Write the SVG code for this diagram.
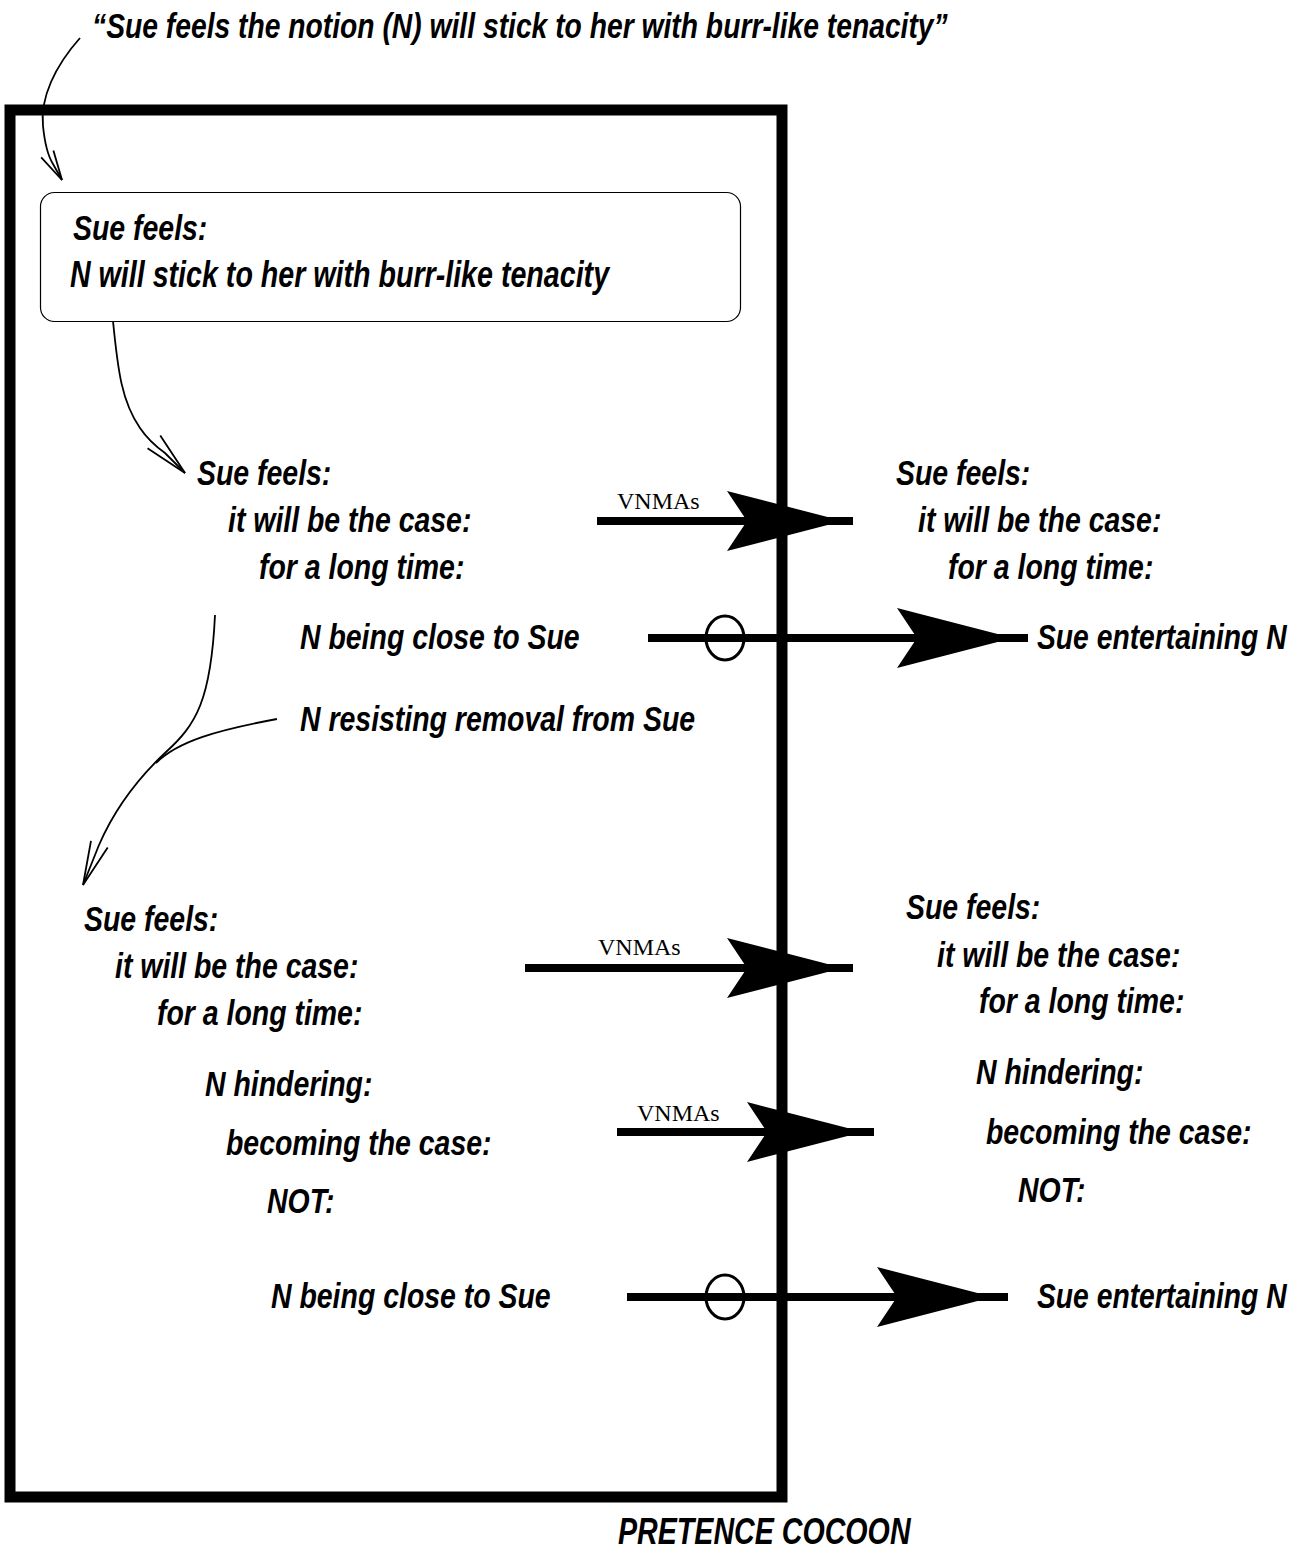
<svg xmlns="http://www.w3.org/2000/svg" width="1307" height="1550" viewBox="0 0 1307 1550">
  <style>
    /* condensed bold oblique sans: 36px glyphs squeezed to 79% width */
    .t { font-family: "Liberation Sans", Arial, sans-serif; font-weight: bold; font-style: italic; font-size: 36px; fill: #000; }
    .lbl { font-family: "Liberation Serif", "Times New Roman", serif; font-size: 24px; fill: #000; }
    .thick { stroke: #000; stroke-width: 8; fill: none; }
    .thin { stroke: #000; stroke-width: 1.8; fill: none; }
    .ring { stroke: #000; stroke-width: 3; fill: none; }
  </style>
  <defs>
    <!-- solid barbed arrowhead, tip at the origin pointing right -->
    <path id="head" d="M0,0 L-116,-30 L-96,0 L-116,30 Z" fill="#000"/>
    <!-- open V arrowheads for the thin curved connectors -->
    <marker id="vshort" markerUnits="userSpaceOnUse" viewBox="-34 -10 38 20" markerWidth="38" markerHeight="20" refX="0" refY="0" orient="auto" overflow="visible">
      <path d="M-30,-7 L0,0 L-30,7" fill="none" stroke="#000" stroke-width="1.8"/>
    </marker>
    <marker id="vlong" markerUnits="userSpaceOnUse" viewBox="-48 -12 52 24" markerWidth="52" markerHeight="24" refX="0" refY="0" orient="auto" overflow="visible">
      <path d="M-44,-9 L0,0 L-44,9" fill="none" stroke="#000" stroke-width="1.8"/>
    </marker>
  </defs>

  <rect width="1307" height="1550" fill="#fff"/>

  <!-- quoted sentence -->
  <g id="quote">
    <text class="t" transform="translate(92,38) scale(0.785,1)">“Sue feels the notion (N) will stick to her with burr-like tenacity”</text>
  </g>

  <!-- the cocoon frame and its caption -->
  <g id="cocoon">
    <rect x="10" y="110" width="772" height="1387" fill="none" stroke="#000" stroke-width="11"/>
    <text class="t" transform="translate(618,1544) scale(0.795,1)">PRETENCE COCOON</text>
  </g>

  <!-- rounded box: restated sentence -->
  <g id="feels-box">
    <rect x="40.5" y="192.5" width="700" height="129" rx="14" ry="14" fill="none" stroke="#000" stroke-width="1.2"/>
    <text class="t" transform="translate(73,240) scale(0.79,1)">Sue feels:</text>
    <text class="t" transform="translate(70,287) scale(0.795,1)">N will stick to her with burr-like tenacity</text>
  </g>

  <!-- first unpacking, inside the cocoon -->
  <g id="inner-1">
    <text class="t" transform="translate(197,485) scale(0.79,1)">Sue feels:</text>
    <text class="t" transform="translate(228,532) scale(0.79,1)">it will be the case:</text>
    <text class="t" transform="translate(259,579) scale(0.79,1)">for a long time:</text>
    <text class="t" transform="translate(300,649) scale(0.79,1)">N being close to Sue</text>
    <text class="t" transform="translate(300,731) scale(0.79,1)">N resisting removal from Sue</text>
  </g>

  <!-- first result, outside the cocoon -->
  <g id="outer-1">
    <text class="t" transform="translate(896,485) scale(0.79,1)">Sue feels:</text>
    <text class="t" transform="translate(918,532) scale(0.79,1)">it will be the case:</text>
    <text class="t" transform="translate(948,579) scale(0.79,1)">for a long time:</text>
    <text class="t" transform="translate(1037,649) scale(0.785,1)">Sue entertaining N</text>
  </g>

  <!-- second unpacking, inside the cocoon -->
  <g id="inner-2">
    <text class="t" transform="translate(84,931) scale(0.79,1)">Sue feels:</text>
    <text class="t" transform="translate(115,978) scale(0.79,1)">it will be the case:</text>
    <text class="t" transform="translate(157,1025) scale(0.79,1)">for a long time:</text>
    <text class="t" transform="translate(205,1096) scale(0.79,1)">N hindering:</text>
    <text class="t" transform="translate(226,1155) scale(0.79,1)">becoming the case:</text>
    <text class="t" transform="translate(267,1213) scale(0.79,1)">NOT:</text>
    <text class="t" transform="translate(271,1308) scale(0.79,1)">N being close to Sue</text>
  </g>

  <!-- second result, outside the cocoon -->
  <g id="outer-2">
    <text class="t" transform="translate(906,919) scale(0.79,1)">Sue feels:</text>
    <text class="t" transform="translate(937,967) scale(0.79,1)">it will be the case:</text>
    <text class="t" transform="translate(979,1013) scale(0.79,1)">for a long time:</text>
    <text class="t" transform="translate(976,1084) scale(0.79,1)">N hindering:</text>
    <text class="t" transform="translate(986,1144) scale(0.79,1)">becoming the case:</text>
    <text class="t" transform="translate(1018,1202) scale(0.79,1)">NOT:</text>
    <text class="t" transform="translate(1037,1308) scale(0.785,1)">Sue entertaining N</text>
  </g>

  <!-- connectors -->
  <g id="connectors">
    <!-- thin curved links -->
    <path class="thin" d="M80,38 C55,66 40,98 43,126 C45,146 48,156 53,164 L62,180" marker-end="url(#vshort)"/>
    <path class="thin" d="M113,321 C118,372 122,402 140,428 C148,440 158,448 165,453 L185,473" marker-end="url(#vlong)"/>
    <path class="thin" d="M215,615 C211,700 196,725 166,752 C135,781 112,815 99,845 L83,885" marker-end="url(#vlong)"/>
    <path class="thin" d="M277,719 C218,730 178,741 156,763"/>

    <!-- VNMAs transfers -->
    <line class="thick" x1="597" y1="521" x2="853" y2="521"/>
    <use href="#head" x="843" y="521"/>
    <text class="lbl" x="617" y="509">VNMAs</text>

    <line class="thick" x1="525" y1="968" x2="853" y2="968"/>
    <use href="#head" x="843" y="968"/>
    <text class="lbl" x="598" y="955">VNMAs</text>

    <line class="thick" x1="617" y1="1132" x2="874" y2="1132"/>
    <use href="#head" x="863" y="1132"/>
    <text class="lbl" x="637" y="1121">VNMAs</text>

    <!-- links crossing the cocoon wall, marked with a ring -->
    <line class="thick" x1="648" y1="638" x2="1028" y2="638"/>
    <ellipse class="ring" cx="725" cy="638" rx="19" ry="22"/>
    <use href="#head" x="1013" y="638"/>

    <line class="thick" x1="627" y1="1297" x2="1008" y2="1297"/>
    <ellipse class="ring" cx="725" cy="1297" rx="19" ry="22"/>
    <use href="#head" x="993" y="1297"/>
  </g>
</svg>
